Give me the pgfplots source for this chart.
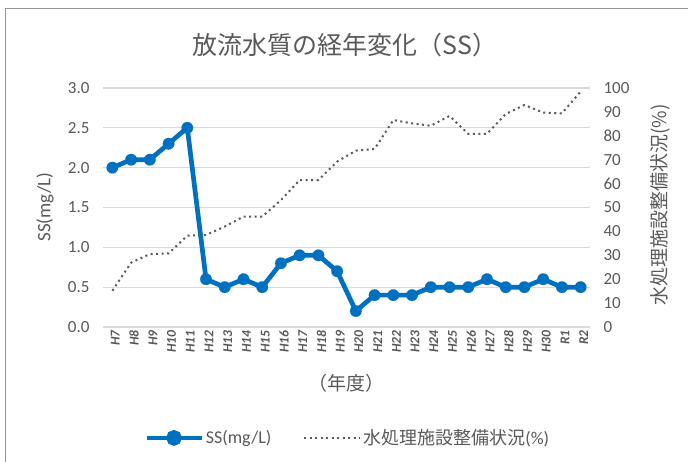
\documentclass[border=0pt]{standalone}
\usepackage{pgfplots}
\pgfplotsset{compat=1.18}
\usepackage{fontspec}
\setmainfont{Carlito}
\newfontfamily\jp{Noto Sans CJK JP}
\definecolor{ssblue}{HTML}{0070C0}
\definecolor{txt}{HTML}{595959}
\definecolor{grd}{HTML}{D9D9D9}
\definecolor{dotc}{HTML}{595959}
\pgfplotsset{
  sslegend/.style={legend image code/.code={\draw[##1, mark=none] (0pt,0pt) -- (55pt,0pt); \fill[ssblue] (27.5pt,0pt) circle (5.5pt);}},
  dotlegend/.style={legend image code/.code={\draw[##1] (0pt,0pt) -- (44pt,0pt); \path (44pt,0pt) -- (56pt,0pt);}},
}
\begin{document}
\begin{tikzpicture}[x=1pt,y=1pt]
\useasboundingbox (0,0) rectangle (688,461);
\draw[color=gray!85, line width=1.5pt] (5.5,-5) -- (5.5,452.5) -- (700,452.5);
\node[text=txt, font=\jp\fontsize{25}{25}\selectfont] at (345,416) {放流水質の経年変化（SS）};
\begin{axis}[
  at={(103pt,134pt)}, anchor=south west,
  scale only axis, width=487pt, height=239pt,
  xmin=-0.5, xmax=25.5, ymin=0, ymax=3,
  axis line style={draw=none},
  ytick={0,0.5,...,3.0},
  ymajorgrids, grid style={color=grd, line width=1.3pt},
  major tick length=0pt,
  xtick={0,...,25},
  xticklabels={H7,H8,H9,H10,H11,H12,H13,H14,H15,H16,H17,H18,H19,H20,H21,H22,H23,H24,H25,H26,H27,H28,H29,H30,R1,R2},
  x tick label style={rotate=90, anchor=east, font=\fontsize{13.5}{13.5}\selectfont\bfseries\itshape, text=txt, yshift=-3pt},
  y tick label style={font=\fontsize{17}{17}\selectfont, text=txt, xshift=-10pt},
  /pgf/number format/assume math mode=true,
  yticklabel style={/pgf/number format/fixed, /pgf/number format/fixed zerofill, /pgf/number format/precision=1},
  ylabel={SS(mg/L)},
  ylabel style={at={(rel axis cs:-0.119,0.502)}, anchor=center, rotate=0, font=\fontsize{19}{19}\selectfont, text=txt},
  xlabel={\jp（年度）},
  xlabel style={at={(rel axis cs:0.501,-0.234)}, anchor=center, font=\fontsize{19}{19}\selectfont, text=txt},
  legend style={at={(rel axis cs:0.078,-0.464)}, anchor=west, draw=none, fill=none, legend columns=2, font=\fontsize{18}{18}\selectfont, text=txt,
    /tikz/every odd column/.append style={column sep=0pt},
    /tikz/every even column/.append style={column sep=30pt}},
  legend cell align=left,
]
\addplot[color=ssblue, line width=4.7pt, mark=*, mark size=5.8pt, mark options={solid, fill=ssblue, draw=ssblue, line width=0.1pt}, sslegend] coordinates {
(0,2.0) (1,2.1) (2,2.1) (3,2.3) (4,2.5) (5,0.6) (6,0.5) (7,0.6) (8,0.5) (9,0.8) (10,0.9) (11,0.9) (12,0.7) (13,0.2) (14,0.4) (15,0.4) (16,0.4) (17,0.5) (18,0.5) (19,0.5) (20,0.6) (21,0.5) (22,0.5) (23,0.6) (24,0.5) (25,0.5)
};
\addlegendentry{SS(mg/L)}
\addlegendimage{color=dotc, line width=2pt, dash pattern=on 2pt off 3.5pt, dotlegend}
\addlegendentry{{\jp 水処理施設整備状況}(\%)}
\end{axis}
\begin{axis}[
  at={(103pt,134pt)}, anchor=south west,
  scale only axis, width=487pt, height=239pt,
  xmin=-0.5, xmax=25.5, ymin=0, ymax=100,
  axis x line=none,
  axis y line*=right,
  axis line style={draw=none},
  ytick={0,10,...,100},
  major tick length=0pt,
  y tick label style={font=\fontsize{17}{17}\selectfont, text=txt, xshift=10pt},
  /pgf/number format/assume math mode=true,
  ylabel={\jp 水処理施設整備状況(\%)},
  ylabel style={at={(rel axis cs:1.1437,0.51)}, anchor=center, rotate=0, font=\fontsize{19}{19}\selectfont, text=txt},
]
\addplot[color=dotc, line width=2pt, dash pattern=on 2pt off 3.5pt] coordinates {
(0,15.2) (1,26.9) (2,30.5) (3,30.8) (4,38.2) (5,38.5) (6,42.0) (7,46.2) (8,46.2) (9,53.1) (10,61.5) (11,61.5) (12,69.2) (13,73.8) (14,74.5) (15,86.6) (16,85.2) (17,84.2) (18,88.3) (19,80.8) (20,80.8) (21,89.1) (22,92.9) (23,89.7) (24,89.4) (25,98.5)
};
\end{axis}
\end{tikzpicture}
\end{document}
